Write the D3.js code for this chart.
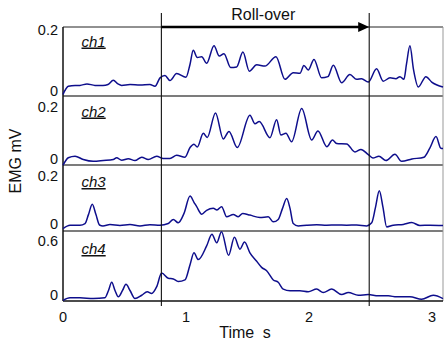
<!DOCTYPE html>
<html>
<head>
<meta charset="utf-8">
<script src="https://cdn.jsdelivr.net/npm/d3@7/dist/d3.min.js"></script>
<style>
  html, body { margin: 0; padding: 0; background: #fff; }
  svg { display: block; font-family: Arial, "Liberation Sans", sans-serif; }
</style>
</head>
<body>
<svg id="chart" width="445" height="338"></svg>
<script>
// Rectified EMG envelopes (mV) for four channels over a gait cycle (time in s)
const ch1Time = [0.00,0.043,0.098,0.138,0.195,0.26,0.325,0.366,0.409,0.447,0.477,0.545,0.626,0.707,0.748,0.789,0.829,0.87,0.924,1.0,1.033,1.059,1.092,1.128,1.168,1.228,1.271,1.309,1.363,1.412,1.463,1.515,1.575,1.642,1.732,1.805,1.872,1.927,1.959,1.994,2.041,2.103,2.154,2.198,2.266,2.333,2.388,2.428,2.482,2.55,2.604,2.659,2.707,2.74,2.772,2.793,2.821,2.85,2.889,2.951,2.998,3.09];
const ch1Value = [-0.013,0.014,0.017,0.017,0.022,0.017,0.017,0.02,0.034,0.022,0.017,0.02,0.018,0.02,0.014,0.042,0.05,0.033,0.056,0.044,0.087,0.133,0.109,0.112,0.09,0.148,0.114,0.122,0.076,0.078,0.127,0.064,0.085,0.081,0.112,0.037,0.059,0.057,0.083,0.068,0.103,0.042,0.046,0.084,0.026,0.053,0.037,0.039,0.028,0.072,0.031,0.042,0.039,0.046,0.037,0.087,0.148,0.07,0.012,0.046,0.028,0.012];

const ch2Time = [0.00,0.043,0.098,0.165,0.246,0.328,0.409,0.436,0.477,0.531,0.585,0.64,0.693,0.762,0.815,0.87,0.924,0.992,1.033,1.065,1.092,1.141,1.173,1.24,1.303,1.35,1.417,1.52,1.561,1.596,1.683,1.737,1.772,1.813,1.859,1.941,2.022,2.073,2.146,2.191,2.225,2.307,2.374,2.423,2.48,2.52,2.569,2.626,2.699,2.754,2.837,2.935,2.984,3.033,3.073,3.09];
const ch2Value = [-0.026,0.003,0.009,-0.004,-0.011,-0.008,-0.004,0.003,-0.007,-0.001,-0.008,0.005,-0.004,0.009,0.0,0.0,0.012,0.005,0.042,0.055,0.044,0.097,0.081,0.175,0.075,0.104,0.042,0.166,0.133,0.142,0.08,0.149,0.09,0.097,0.064,0.192,0.071,0.106,0.045,0.071,0.058,0.056,0.025,0.035,0.016,0.002,0.009,-0.008,0.016,-0.011,-0.002,0.005,0.041,0.084,0.039,0.038];

const ch3Time = [0.00,0.057,0.138,0.179,0.207,0.238,0.268,0.297,0.325,0.382,0.463,0.545,0.626,0.707,0.789,0.856,0.897,0.937,0.984,1.033,1.065,1.087,1.128,1.168,1.222,1.252,1.29,1.331,1.385,1.425,1.461,1.52,1.602,1.669,1.71,1.75,1.785,1.819,1.846,1.872,1.913,1.981,2.063,2.144,2.225,2.307,2.388,2.469,2.51,2.541,2.572,2.602,2.632,2.685,2.767,2.835,2.902,2.984,3.09];
const ch3Value = [-0.021,-0.007,-0.007,0.0,0.037,0.08,0.037,-0.006,-0.01,-0.004,-0.008,-0.004,-0.01,-0.005,-0.007,0.0,0.017,0.003,0.042,0.114,0.088,0.07,0.039,0.055,0.063,0.056,0.07,0.028,0.038,0.028,0.042,0.035,0.025,0.028,0.007,0.017,0.063,0.104,0.063,0.0,-0.01,-0.007,-0.005,-0.007,-0.006,-0.007,-0.006,-0.01,0.003,0.067,0.136,0.067,-0.014,-0.007,-0.004,0.004,-0.008,-0.007,-0.008];

const ch4Time = [0.00,0.057,0.138,0.246,0.341,0.37,0.396,0.423,0.45,0.484,0.512,0.545,0.585,0.64,0.685,0.721,0.762,0.802,0.856,0.897,0.937,0.992,1.033,1.065,1.1,1.168,1.211,1.25,1.289,1.346,1.394,1.439,1.476,1.52,1.575,1.615,1.656,1.71,1.75,1.791,1.846,1.927,1.994,2.063,2.116,2.185,2.266,2.32,2.401,2.482,2.563,2.645,2.713,2.821,2.916,3.011,3.09];
const ch4Value = [-0.065,-0.037,-0.037,-0.045,-0.037,0.045,0.136,0.045,-0.026,0.045,0.113,0.045,-0.045,-0.008,0.031,0.011,0.087,0.238,0.181,0.173,0.144,0.162,0.332,0.464,0.388,0.54,0.67,0.575,0.699,0.436,0.636,0.504,0.584,0.464,0.37,0.302,0.264,0.162,0.136,0.06,0.042,0.042,0.031,0.06,0.023,0.06,0.0,0.023,-0.008,0.0,-0.015,-0.015,-0.026,-0.026,-0.053,-0.008,-0.045];

const channelNames = ["ch1", "ch2", "ch3", "ch4"];
const channelTicks = [[0, 0.2], [0, 0.2], [0, 0.2], [0, 0.6]];
const xTickValues = [0, 1, 2, 3];
const phaseStart = 0.8, phaseEnd = 2.49;
const phaseLabel = "Roll-over";

const svg = d3.select("#chart");
const traceColor = "#0e0e8c";

// Plot frame and horizontal bands, one per channel
const plotLeft = 63, plotRight = 443;
const bands = [[27, 96], [96, 165], [165, 231], [231, 301]];
const yDomains = [[-0.018, 0.21], [-0.025, 0.24], [-0.031, 0.243], [-0.072, 0.706]];
const labelBaselines = [46.5, 116.5, 187, 254];

const x = d3.scaleLinear().domain([0, 3.09]).range([plotLeft, plotRight]);

const series = [
  d3.zip(ch1Time, ch1Value),
  d3.zip(ch2Time, ch2Value),
  d3.zip(ch3Time, ch3Value),
  d3.zip(ch4Time, ch4Value)
];

// separators between channel bands
svg.selectAll("line.sep").data([96, 165, 231]).join("line")
  .attr("class", "sep")
  .attr("x1", plotLeft).attr("x2", plotRight)
  .attr("y1", d => d).attr("y2", d => d)
  .attr("stroke", "#505050").attr("stroke-width", 1.4);

// outer frame
svg.append("line").attr("x1", plotLeft).attr("x2", plotRight).attr("y1", 27).attr("y2", 27)
  .attr("stroke", "#222").attr("stroke-width", 1);
svg.append("line").attr("x1", plotRight).attr("x2", plotRight).attr("y1", 27).attr("y2", 301)
  .attr("stroke", "#999").attr("stroke-width", 1);
svg.append("line").attr("x1", plotLeft).attr("x2", plotRight).attr("y1", 301).attr("y2", 301)
  .attr("stroke", "#111").attr("stroke-width", 1.3);
svg.append("line").attr("x1", plotLeft).attr("x2", plotLeft).attr("y1", 27).attr("y2", 301)
  .attr("stroke", "#111").attr("stroke-width", 1.5);

series.forEach((data, i) => {
  const [top, bottom] = bands[i];
  const y = d3.scaleLinear().domain(yDomains[i]).range([bottom, top]);

  const line = d3.line()
    .x(d => x(d[0]))
    .y(d => y(d[1]))
    .curve(d3.curveMonotoneX);

  svg.append("path")
    .datum(data)
    .attr("d", line)
    .attr("fill", "none")
    .attr("stroke", traceColor)
    .attr("stroke-width", 1.5)
    .attr("stroke-linejoin", "round");

  // y tick labels
  svg.selectAll(null).data(channelTicks[i]).join("text")
    .attr("x", 58)
    .attr("y", d => y(d))
    .attr("dy", "0.36em")
    .attr("text-anchor", "end")
    .attr("font-size", 14.5)
    .attr("fill", "#111")
    .text(d => d3.format("")(d));

  // channel name
  svg.append("text")
    .attr("x", 81.5)
    .attr("y", labelBaselines[i])
    .attr("font-size", 15)
    .attr("font-style", "italic")
    .attr("text-decoration", "underline")
    .attr("fill", "#111")
    .text(channelNames[i]);
});

// phase markers
svg.selectAll("line.phase").data([phaseStart, phaseEnd]).join("line")
  .attr("class", "phase")
  .attr("x1", d => x(d)).attr("x2", d => x(d))
  .attr("y1", 13).attr("y2", 306)
  .attr("stroke", "#111").attr("stroke-width", 1.1);

// arrow across the roll-over phase
const ax0 = x(phaseStart), ax1 = x(phaseEnd);
svg.append("line")
  .attr("x1", ax0).attr("x2", ax1 - 8)
  .attr("y1", 27).attr("y2", 27)
  .attr("stroke", "#000").attr("stroke-width", 2.6);
svg.append("path")
  .attr("d", `M${ax1},27 L${ax1 - 11},22 L${ax1 - 11},32 Z`)
  .attr("fill", "#000");

svg.append("text")
  .attr("x", (ax0 + ax1) / 2 - 2)
  .attr("y", 19.5)
  .attr("text-anchor", "middle")
  .attr("font-size", 16)
  .attr("fill", "#111")
  .text(phaseLabel);

// x axis labels
svg.selectAll("text.xt").data(xTickValues).join("text")
  .attr("class", "xt")
  .attr("x", d => x(d))
  .attr("y", 321.5)
  .attr("text-anchor", "middle")
  .attr("font-size", 14.5)
  .attr("fill", "#111")
  .text(d => d);

svg.append("text")
  .attr("x", 245)
  .attr("y", 337.5)
  .attr("text-anchor", "middle")
  .attr("font-size", 16)
  .attr("word-spacing", 4)
  .attr("fill", "#111")
  .text("Time s");

// y axis title
svg.append("text")
  .attr("transform", "translate(21,161) rotate(-90)")
  .attr("text-anchor", "middle")
  .attr("font-size", 16)
  .attr("fill", "#111")
  .text("EMG mV");
</script>
</body>
</html>
